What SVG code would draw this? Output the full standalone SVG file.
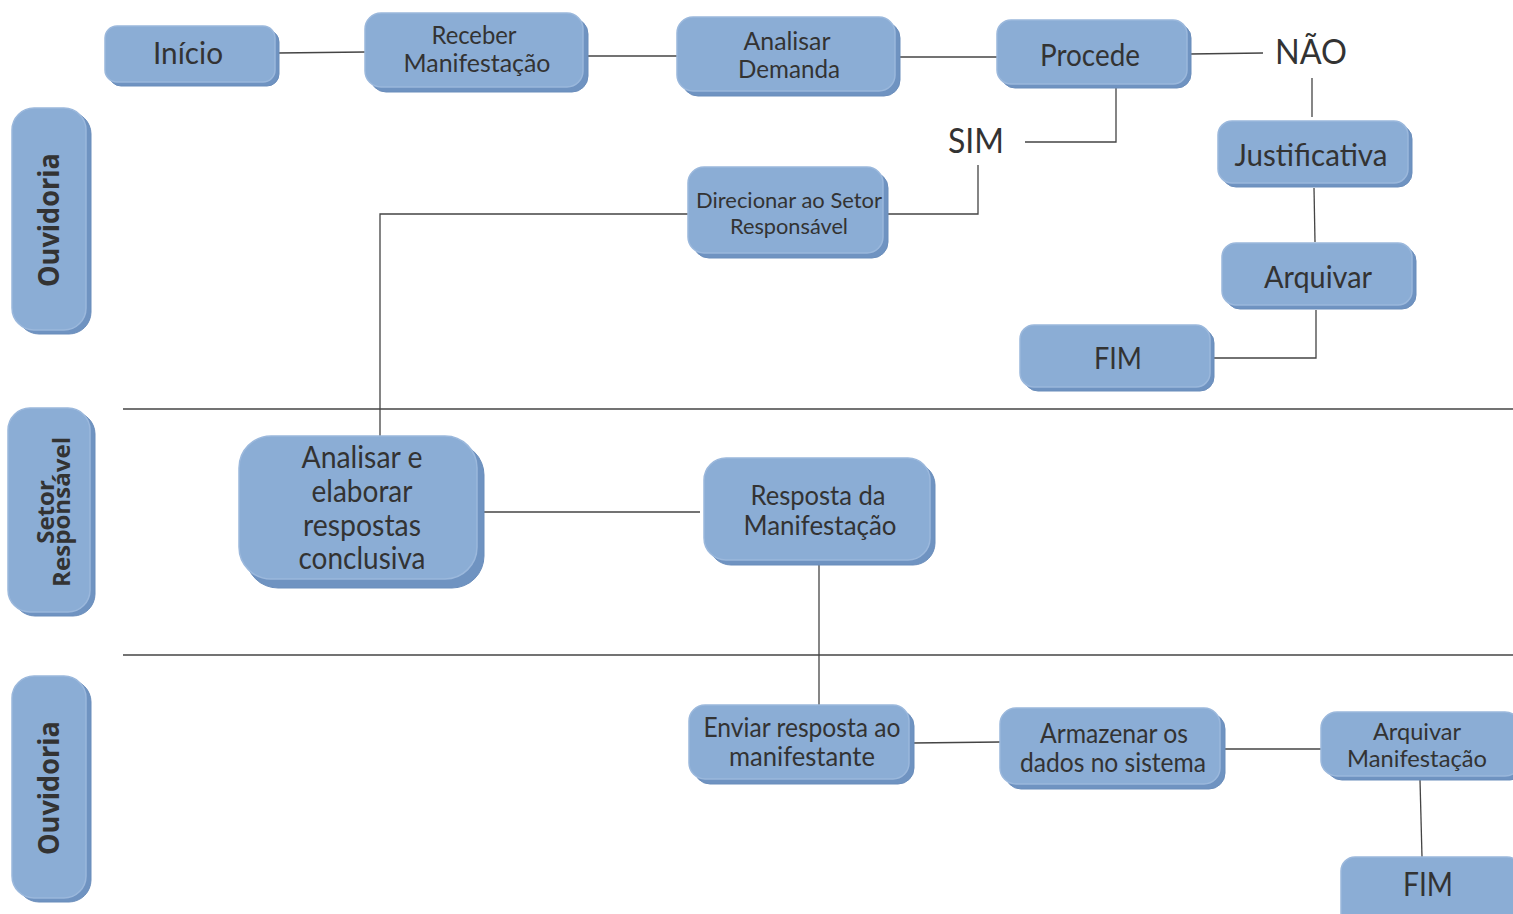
<svg xmlns="http://www.w3.org/2000/svg" width="1513" height="914" viewBox="0 0 1513 914">
<style>
.bk{fill:#6f93c1;stroke:#6a8dbb;stroke-width:1}
.fr{fill:#8badd5;stroke:#9bb8dc;stroke-width:1.5}
.t{font-family:Lato,"Open Sans",sans-serif;fill:#333;text-anchor:middle}
.lane{font-family:"Open Sans","DejaVu Sans",sans-serif;font-weight:bold;fill:#333;text-anchor:middle}
.c{fill:none;stroke:#444;stroke-width:1.3}
</style>
<rect width="1513" height="914" fill="#fff"/>
<g id="separators" class="c">
<line x1="123" y1="409" x2="1513" y2="409"/>
<line x1="123" y1="655" x2="1513" y2="655"/>
</g>
<g id="connectors" class="c">
<polyline points="278,53 365,52"/>
<polyline points="585,56 677,56"/>
<polyline points="897,57 997,57"/>
<polyline points="1190,54 1263,53"/>
<polyline points="1312,78 1312,117"/>
<polyline points="1314,188 1315,242"/>
<polyline points="1316,310 1316,358 1214,358"/>
<polyline points="1116,88 1116,142 1025,142"/>
<polyline points="978,165 978,214 888,214"/>
<polyline points="688,214 380,214 380,436"/>
<polyline points="482,512 700,512"/>
<polyline points="819,565 819,705"/>
<polyline points="913,743 1000,742"/>
<polyline points="1223,749 1321,749"/>
<polyline points="1420,780 1422,857"/>
</g>
<g id="lane-ouvidoria-1">
<rect class="bk" x="17" y="112" width="74" height="222" rx="22"/>
<rect class="fr" x="12" y="108" width="74" height="222" rx="22"/>
<text class="lane" font-size="28" textLength="134" lengthAdjust="spacingAndGlyphs" transform="translate(59,220) rotate(-90)">Ouvidoria</text>
</g>
<g id="lane-setor">
<rect class="bk" x="13" y="412" width="82" height="204" rx="22"/>
<rect class="fr" x="8" y="408" width="82" height="204" rx="22"/>
<text class="lane" font-size="24" transform="translate(54,512) rotate(-90)">Setor</text>
<text class="lane" font-size="24" textLength="150" lengthAdjust="spacingAndGlyphs" transform="translate(70,512) rotate(-90)">Responsável</text>
</g>
<g id="lane-ouvidoria-2">
<rect class="bk" x="17" y="680" width="74" height="222" rx="22"/>
<rect class="fr" x="12" y="676" width="74" height="222" rx="22"/>
<text class="lane" font-size="28" textLength="134" lengthAdjust="spacingAndGlyphs" transform="translate(59,788) rotate(-90)">Ouvidoria</text>
</g>
<g id="inicio">
<rect class="bk" x="109" y="30" width="170" height="56" rx="12"/>
<rect class="fr" x="105" y="26" width="170" height="56" rx="12"/>
<text class="t" x="188" y="64" font-size="31" textLength="70" lengthAdjust="spacingAndGlyphs">Início</text>
</g>
<g id="receber">
<rect class="bk" x="370" y="18" width="218" height="74" rx="16"/>
<rect class="fr" x="365" y="13" width="218" height="74" rx="16"/>
<text class="t" x="474" y="44" font-size="25" textLength="85" lengthAdjust="spacingAndGlyphs">Receber</text>
<text class="t" x="477" y="72" font-size="25" textLength="147" lengthAdjust="spacingAndGlyphs">Manifestação</text>
</g>
<g id="analisar-demanda">
<rect class="bk" x="682" y="22" width="218" height="74" rx="16"/>
<rect class="fr" x="677" y="17" width="218" height="74" rx="16"/>
<text class="t" x="787" y="50" font-size="25" textLength="87" lengthAdjust="spacingAndGlyphs">Analisar</text>
<text class="t" x="789" y="78" font-size="25" textLength="102" lengthAdjust="spacingAndGlyphs">Demanda</text>
</g>
<g id="procede">
<rect class="bk" x="1001" y="24" width="190" height="64" rx="14"/>
<rect class="fr" x="997" y="20" width="190" height="64" rx="14"/>
<text class="t" x="1090" y="66" font-size="31" textLength="100" lengthAdjust="spacingAndGlyphs">Procede</text>
</g>
<g id="nao"><text class="t" x="1311" y="64" font-size="35" textLength="72" lengthAdjust="spacingAndGlyphs">NÃO</text></g>
<g id="sim"><text class="t" x="976" y="153" font-size="35" textLength="56" lengthAdjust="spacingAndGlyphs">SIM</text></g>
<g id="justificativa">
<rect class="bk" x="1222" y="125" width="190" height="62" rx="14"/>
<rect class="fr" x="1218" y="121" width="190" height="62" rx="14"/>
<text class="t" x="1311" y="166" font-size="31" textLength="153" lengthAdjust="spacingAndGlyphs">Justificativa</text>
</g>
<g id="arquivar">
<rect class="bk" x="1226" y="247" width="190" height="62" rx="14"/>
<rect class="fr" x="1222" y="243" width="190" height="62" rx="14"/>
<text class="t" x="1318" y="288" font-size="31" textLength="108" lengthAdjust="spacingAndGlyphs">Arquivar</text>
</g>
<g id="fim-1">
<rect class="bk" x="1024" y="329" width="190" height="62" rx="14"/>
<rect class="fr" x="1020" y="325" width="190" height="62" rx="14"/>
<text class="t" x="1118" y="369" font-size="31" textLength="48" lengthAdjust="spacingAndGlyphs">FIM</text>
</g>
<g id="direcionar">
<rect class="bk" x="693" y="172" width="195" height="86" rx="16"/>
<rect class="fr" x="688" y="167" width="195" height="86" rx="16"/>
<text class="t" x="789" y="208" font-size="22" textLength="186" lengthAdjust="spacingAndGlyphs">Direcionar ao Setor</text>
<text class="t" x="789" y="234" font-size="22" textLength="118" lengthAdjust="spacingAndGlyphs">Responsável</text>
</g>
<g id="analisar-elaborar">
<rect class="bk" x="246" y="443" width="238" height="145" rx="32"/>
<rect class="fr" x="239" y="436" width="238" height="143" rx="32"/>
<text class="t" x="362" y="468" font-size="30" textLength="121" lengthAdjust="spacingAndGlyphs">Analisar e</text>
<text class="t" x="362" y="502" font-size="30" textLength="101" lengthAdjust="spacingAndGlyphs">elaborar</text>
<text class="t" x="362" y="536" font-size="30" textLength="118" lengthAdjust="spacingAndGlyphs">respostas</text>
<text class="t" x="362" y="569" font-size="30" textLength="127" lengthAdjust="spacingAndGlyphs">conclusiva</text>
</g>
<g id="resposta">
<rect class="bk" x="709" y="463" width="226" height="102" rx="22"/>
<rect class="fr" x="704" y="458" width="226" height="102" rx="22"/>
<text class="t" x="818" y="505" font-size="27" textLength="135" lengthAdjust="spacingAndGlyphs">Resposta da</text>
<text class="t" x="820" y="535" font-size="27" textLength="153" lengthAdjust="spacingAndGlyphs">Manifestação</text>
</g>
<g id="enviar">
<rect class="bk" x="694" y="710" width="220" height="74" rx="16"/>
<rect class="fr" x="689" y="705" width="220" height="74" rx="16"/>
<text class="t" x="802" y="737" font-size="26" textLength="197" lengthAdjust="spacingAndGlyphs">Enviar resposta ao</text>
<text class="t" x="802" y="766" font-size="26" textLength="146" lengthAdjust="spacingAndGlyphs">manifestante</text>
</g>
<g id="armazenar">
<rect class="bk" x="1005" y="713" width="220" height="76" rx="16"/>
<rect class="fr" x="1000" y="708" width="220" height="76" rx="16"/>
<text class="t" x="1114" y="743" font-size="26" textLength="148" lengthAdjust="spacingAndGlyphs">Armazenar os</text>
<text class="t" x="1113" y="772" font-size="26" textLength="186" lengthAdjust="spacingAndGlyphs">dados no sistema</text>
</g>
<g id="arquivar-manifestacao">
<rect class="bk" x="1326" y="716" width="200" height="64" rx="16"/>
<rect class="fr" x="1321" y="712" width="200" height="64" rx="16"/>
<text class="t" x="1417" y="740" font-size="24" textLength="88" lengthAdjust="spacingAndGlyphs">Arquivar</text>
<text class="t" x="1417" y="767" font-size="24" textLength="140" lengthAdjust="spacingAndGlyphs">Manifestação</text>
</g>
<g id="fim-2">
<rect class="bk" x="1345" y="861" width="180" height="70" rx="14"/>
<rect class="fr" x="1341" y="857" width="180" height="70" rx="14"/>
<text class="t" x="1428" y="896" font-size="33" textLength="50" lengthAdjust="spacingAndGlyphs">FIM</text>
</g>
</svg>
